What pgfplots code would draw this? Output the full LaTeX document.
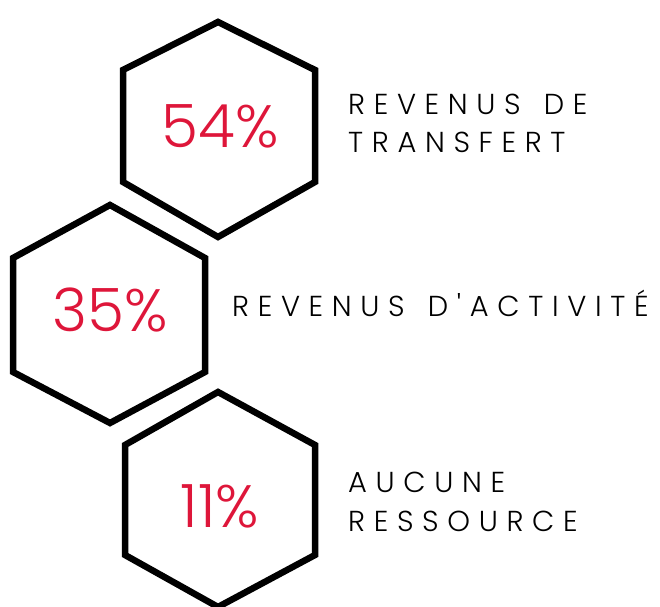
\documentclass[border=0pt]{standalone}
\usepackage{fontspec}
\setmainfont{Poppins}[UprightFont={* Light}]
\newfontfamily\labelfont{Poppins}[UprightFont={* Light}, LetterSpace=30, WordSpace=1.4]
\usepackage{pgfplots}
\pgfplotsset{compat=1.18}
\definecolor{pctred}{RGB}{222,22,58}
\begin{document}
\begin{tikzpicture}
\begin{axis}[
  x=1bp, y=1bp, scale only axis,
  xmin=0, xmax=660, ymin=0, ymax=607,
  hide axis, clip=true,
]
% hexagon outlines (pixel coordinates, y measured from bottom)
\addplot[black, line width=6.5bp, line join=miter] coordinates {
  (218,585) (315,537) (315,425) (218,370) (123,425) (123,537) (218,585)} -- cycle;
\addplot[black, line width=6.5bp, line join=miter] coordinates {
  (110,402) (205,349) (205,235) (110,184) (13,235) (13,349) (110,402)} -- cycle;
\addplot[black, line width=6.5bp, line join=miter] coordinates {
  (218,215) (315,162) (315,52) (218,0) (125,52) (125,162) (218,215)} -- cycle;
% percentages
\node[anchor=base, inner sep=0, text=pctred, font=\fontsize{60}{60}\selectfont] at (axis cs:220,459) {54\%};
\node[anchor=base, inner sep=0, text=pctred, font=\fontsize{60}{60}\selectfont] at (axis cs:110,275) {35\%};
\node[anchor=base, inner sep=0, text=pctred, font=\fontsize{60}{60}\selectfont] at (axis cs:220,79) {11\%};
% labels
\node[anchor=base west, inner sep=0, font=\labelfont\fontsize{29}{29}\selectfont] at (axis cs:348,492) {REVENUS DE};
\node[anchor=base west, inner sep=0, font=\labelfont\fontsize{29}{29}\selectfont] at (axis cs:348,454) {TRANSFERT};
\node[anchor=base west, inner sep=0, font=\labelfont\fontsize{29}{29}\selectfont] at (axis cs:232,290) {REVENUS D'ACTIVITÉ};
\node[anchor=base west, inner sep=0, font=\labelfont\fontsize{29}{29}\selectfont] at (axis cs:348,114) {AUCUNE};
\node[anchor=base west, inner sep=0, font=\labelfont\fontsize{29}{29}\selectfont] at (axis cs:348,75) {RESSOURCE};
\end{axis}
\pgfresetboundingbox
\path[use as bounding box] (current axis.south west) rectangle (current axis.north east);
\end{tikzpicture}
\end{document}
